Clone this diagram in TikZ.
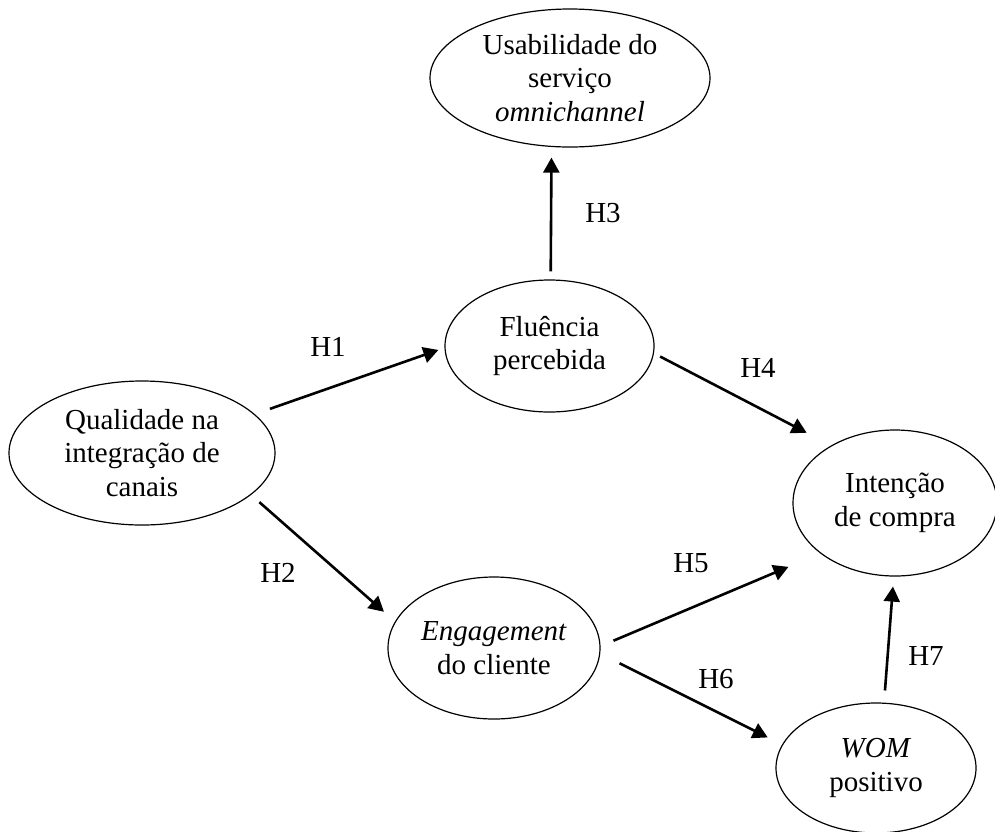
\documentclass[tikz,border=0pt]{standalone}
\usepackage{fontspec}
\setmainfont{Liberation Serif}
\usetikzlibrary{shapes.geometric,arrows.meta}

\begin{document}
\begin{tikzpicture}[x = 1pt, y = -1pt,
    font = \fontsize{29}{33.5}\selectfont,
    construto/.style = {ellipse, draw, line width = 1.2pt, inner sep = 0pt, align = center},
    hipotese/.style = {line width = 2.6pt, -{Triangle[length = 15pt, width = 16pt]}},
    rotulo/.style = {inner sep = 0pt}]
    \useasboundingbox (0,0) rectangle (995,831);

    \node [construto, minimum width = 280pt, minimum height = 138pt] (usab) at (570,78)
        {Usabilidade do\\serviço\\\textit{omnichannel}};
    \node [construto, minimum width = 209pt, minimum height = 132pt] (flu) at (549.5,346)
        {Fluência\\percebida};
    \node [construto, minimum width = 266pt, minimum height = 144pt] (qual) at (142,453)
        {Qualidade na\\integração de\\canais};
    \node [construto, minimum width = 212pt, minimum height = 142pt] (eng) at (494,648)
        {\textit{Engagement}\\do cliente};
    \node [construto, minimum width = 204pt, minimum height = 146pt] (intencao) at (895,503)
        {Intenção\\de compra};
    \node [construto, minimum width = 200pt, minimum height = 130pt] (wom) at (876,768)
        {\textit{WOM}\\positivo};

    \draw [hipotese, shorten <= 16pt, shorten >= 6.4pt] (qual.19.8) -- (flu.181.1);
    \draw [hipotese, shorten <= 11pt, shorten >= 14.7pt] (qual.339.7) -- (eng.165.8);
    \draw [hipotese, shorten <= 8pt, shorten >= 10.6pt] (flu.89) -- (usab.255.3);
    \draw [hipotese, shorten <= 7pt, shorten >= 27.5pt] (flu.356.4) -- (intencao.138);
    \draw [hipotese, shorten <= 14pt, shorten >= 34.5pt] (eng.1.4) -- (intencao.214.8);
    \draw [hipotese, shorten <= 21.6pt, shorten >= 16pt] (eng.357.1) -- (wom.166.3);
    \draw [hipotese, shorten <= 12.2pt, shorten >= 10pt] (wom.83.9) -- (intencao.269.1);

    \node [rotulo] (h1) at (328,347) {H1};
    \node [rotulo] (h2) at (278,573) {H2};
    \node [rotulo] (h3) at (603,213) {H3};
    \node [rotulo] (h4) at (758,368) {H4};
    \node [rotulo] (h5) at (691,563) {H5};
    \node [rotulo] (h6) at (716,679) {H6};
    \node [rotulo] (h7) at (926,656) {H7};
\end{tikzpicture}
\end{document}
